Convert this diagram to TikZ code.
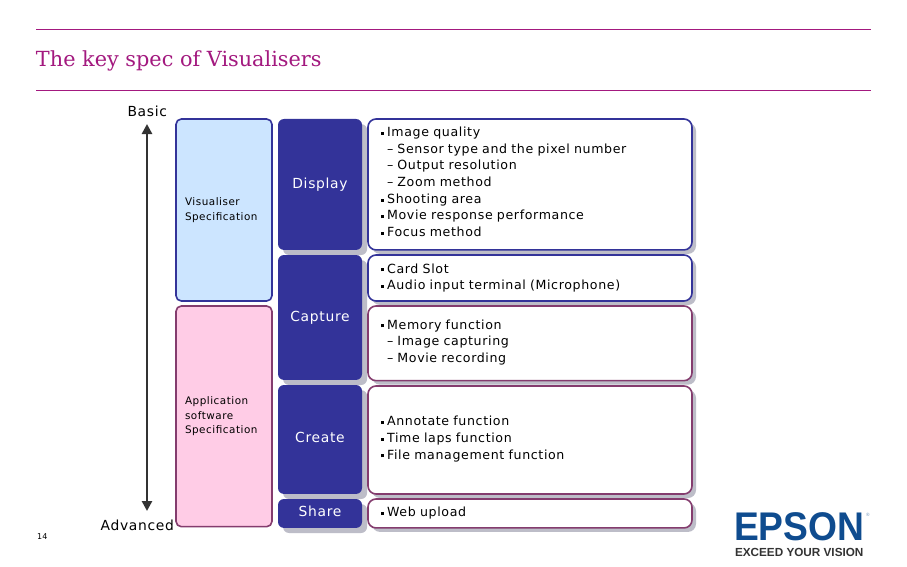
\documentclass[tikz,border=0pt]{standalone}
\usepackage{fontspec}
\setmainfont[LetterSpace=5]{DejaVu Sans}
\newfontfamily\titlefont{DejaVu Serif}
\newfontfamily\logofont{Liberation Sans}
\usepackage{tikz}
\usetikzlibrary{arrows.meta,positioning,shadows}
\definecolor{ctitle}{HTML}{A3197F}
\definecolor{cnavy}{HTML}{333399}
\definecolor{cwine}{HTML}{843C6E}
\definecolor{cblue}{HTML}{CCE5FF}
\definecolor{cpink}{HTML}{FFCCE6}
\definecolor{cshade}{HTML}{BDBDC8}
\definecolor{clogo}{HTML}{0F4C8F}
\newcommand{\bul}{\rule[0.25ex]{2.2pt}{2.2pt}\hspace{2.4pt}}
\newcommand{\dsh}{\hspace*{4.6pt}--\hspace{3pt}}
\begin{document}
\begin{tikzpicture}[
  x=0.75pt,y=-0.75pt,
  every node/.style={inner sep=0pt,outer sep=0pt},
  rulebar/.style={draw=ctitle,line width=0.5pt},
  lab/.style={font=\fontsize{10.4}{12}\selectfont,text=black},
  spec/.style={anchor=north west,draw,line width=1.2pt,rounded corners=4pt,minimum width=72pt,
               align=left,text width=58.5pt,inner xsep=6.75pt,font=\fontsize{7.8}{10.8}\selectfont},
  stagebox/.style={anchor=north west,fill=cnavy,rounded corners=4.5pt,minimum width=63pt,text=white,
                   font=\fontsize{10.4}{12}\selectfont,
                   drop shadow={shadow xshift=3.8pt,shadow yshift=-3.8pt,fill=cshade,opacity=1}},
  item/.style={anchor=north west,fill=white,line width=1.2pt,rounded corners=6pt,minimum width=243pt,
               align=left,text width=223.5pt,inner xsep=9.75pt,font=\fontsize{9.45}{12.5}\selectfont,
               drop shadow={shadow xshift=3pt,shadow yshift=-3pt,fill=cshade,opacity=1}},
  arr/.style={{Triangle[length=7.5pt,width=7.5pt]}-{Triangle[length=7.5pt,width=7.5pt]},black!80,line width=2pt}]
  \path[use as bounding box,fill=white] (0,0) rectangle (907,567);
  \draw[rulebar] (36,29) -- (871,29);
  \draw[rulebar] (36,90.5) -- (871,90.5);
  \node[anchor=west,text=ctitle,font=\titlefont\fontsize{15.6}{18}\selectfont] (title) at (36,61) {The key spec of Visualisers};
  % levels
  \node[lab,anchor=east] (basic) at (167,111) {Basic};
  \node[lab,anchor=east] (advanced) at (174,525) {Advanced};
  \coordinate (top) at (147,124);
  \coordinate (bottom) at (147,511);
  \draw[arr] (top) -- (bottom);
  \node[spec,draw=cnavy,fill=cblue,minimum height=136.5pt] (vis) at (176,119) {Visualiser\\Specification};
  \node[spec,draw=cwine,fill=cpink,minimum height=165.5pt] (app) at (176,306) {Application\\software\\Specification};
  % stages
  \node[stagebox,minimum height=98.2pt] (display) at (278,119) {\raisebox{2pt}{Display}};
  \node[stagebox,minimum height=93.7pt] (capture) at (278,255) {Capture};
  \node[stagebox,minimum height=81.7pt] (create) at (278,385) {\raisebox{2.5pt}{Create}};
  \node[stagebox,minimum height=21.7pt] (share) at (278,499) {\raisebox{3pt}{Share}};
  % details
  \node[item,draw=cnavy,minimum height=98.2pt] (d1) at (368,119) {\bul Image quality\\
    \dsh Sensor type and the pixel number\\\dsh Output resolution\\\dsh Zoom method\\
    \bul Shooting area\\\bul Movie response performance\\\bul Focus method\rule[-3.9pt]{0pt}{3.9pt}};
  \node[item,draw=cnavy,minimum height=34.5pt] (d2) at (368,255) {\bul Card Slot\\\bul Audio input terminal (Microphone)};
  \node[item,draw=cwine,minimum height=56pt] (d3) at (368,306) {\bul Memory function\\\dsh Image capturing\\\dsh Movie recording\rule[-3.5pt]{0pt}{3.5pt}};
  \node[item,draw=cwine,minimum height=81pt] (d4) at (368,386) {\bul Annotate function\\\bul Time laps function\\\bul File management function\rule[-3.5pt]{0pt}{3.5pt}};
  \node[item,draw=cwine,minimum height=21.7pt] (d5) at (368,499) {\bul Web upload};
  % footer
  \node[anchor=west,font=\fontsize{6}{8}\selectfont] (page) at (37,537) {14};
  \node[anchor=west,xscale=0.93,text=clogo,font=\logofont\bfseries\fontsize{30}{31}\selectfont] (epson) at (734,526.5) {EPSON};
  \node[anchor=north west,text=black!80,font=\logofont\bfseries\fontsize{8.8}{9}\selectfont] (vision) at (735,548) {EXCEED YOUR VISION};
  \node[anchor=west,text=clogo!60,font=\logofont\fontsize{3.5}{4}\selectfont] (reg) at (866,515) {\textregistered};
\end{tikzpicture}
\end{document}
